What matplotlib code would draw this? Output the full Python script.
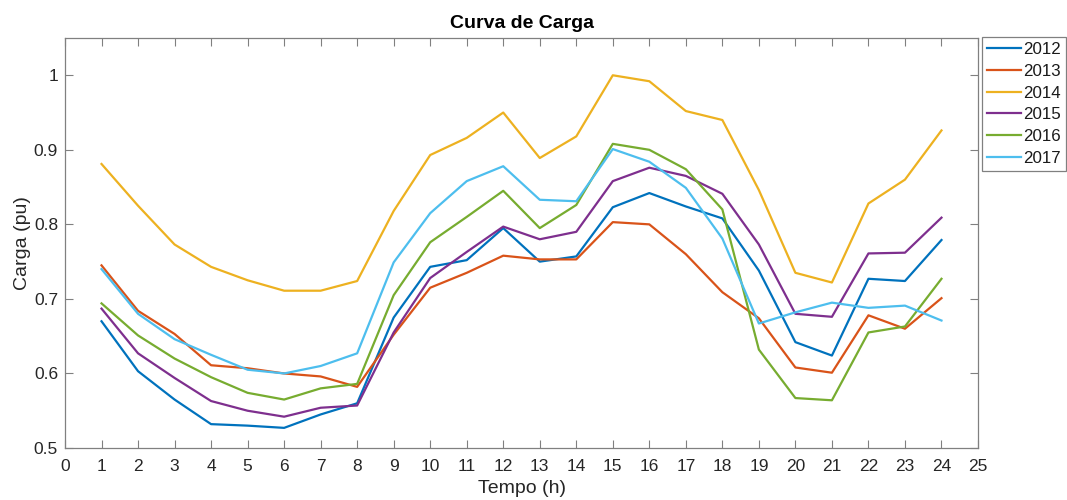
import matplotlib.pyplot as plt

plt.rcParams['font.family'] = ['Liberation Sans', 'DejaVu Sans']

hours = list(range(1, 25))
years = ["2012", "2013", "2014", "2015", "2016", "2017"]

load_2012 = [0.670, 0.603, 0.565, 0.532, 0.530, 0.527, 0.545, 0.560, 0.675, 0.743, 0.752, 0.795,
             0.750, 0.757, 0.823, 0.842, 0.824, 0.808, 0.738, 0.642, 0.624, 0.727, 0.724, 0.779]
load_2013 = [0.745, 0.684, 0.653, 0.611, 0.607, 0.600, 0.596, 0.582, 0.652, 0.715, 0.735, 0.758,
             0.753, 0.753, 0.803, 0.800, 0.760, 0.709, 0.674, 0.608, 0.601, 0.678, 0.660, 0.701]
load_2014 = [0.881, 0.825, 0.773, 0.743, 0.725, 0.711, 0.711, 0.724, 0.818, 0.893, 0.916, 0.950,
             0.889, 0.918, 1.000, 0.992, 0.952, 0.940, 0.846, 0.735, 0.722, 0.828, 0.860, 0.926]
load_2015 = [0.687, 0.627, 0.594, 0.563, 0.550, 0.542, 0.554, 0.557, 0.655, 0.728, 0.763, 0.797,
             0.780, 0.790, 0.858, 0.876, 0.865, 0.841, 0.773, 0.680, 0.676, 0.761, 0.762, 0.809]
load_2016 = [0.694, 0.651, 0.620, 0.595, 0.574, 0.565, 0.580, 0.586, 0.705, 0.776, 0.810, 0.845,
             0.795, 0.826, 0.908, 0.900, 0.874, 0.820, 0.632, 0.567, 0.564, 0.655, 0.663, 0.727]
load_2017 = [0.740, 0.680, 0.646, 0.625, 0.605, 0.600, 0.610, 0.627, 0.749, 0.815, 0.858, 0.878,
             0.833, 0.831, 0.901, 0.884, 0.849, 0.781, 0.667, 0.682, 0.695, 0.688, 0.691, 0.671]

series = [load_2012, load_2013, load_2014, load_2015, load_2016, load_2017]
colors = ["#0072BD", "#D95319", "#EDB120", "#7E2F8E", "#77AC30", "#4DBEEE"]

axis_color = "#808080"
text_color = "#262626"

fig = plt.figure(figsize=(10.67, 5), dpi=100)
ax = fig.add_axes([65 / 1067, 1 - 448 / 500, 913 / 1067, 410 / 500])

for vals, name, c in zip(series, years, colors):
  ax.plot(hours, vals, color=c, linewidth=1.6, label=name)

ax.set_xlim(0, 25)
ax.set_ylim(0.5, 1.05)
ax.set_xticks(range(0, 26))
ax.set_yticks([0.5, 0.6, 0.7, 0.8, 0.9, 1.0])
ax.set_yticklabels(["0.5", "0.6", "0.7", "0.8", "0.9", "1"])

ax.tick_params(direction="in", length=6, width=0.8, top=True, right=True,
               colors=axis_color, labelcolor=text_color, labelsize=12.5, pad=5)
ax.tick_params(axis="x", pad=8)
for sp in ax.spines.values():
  sp.set_color(axis_color)
  sp.set_linewidth(0.9)

ax.set_title("Curva de Carga", fontsize=14, fontweight="bold", color="black", pad=7)
ax.set_xlabel("Tempo (h)", fontsize=14, color=text_color, labelpad=4)
ax.set_ylabel("Carga (pu)", fontsize=14, color=text_color, labelpad=2)

leg = ax.legend(loc="upper left", bbox_to_anchor=(982 / 1067, 1 - 37 / 500),
                bbox_transform=fig.transFigure, borderaxespad=0, fontsize=12.2,
                fancybox=False, framealpha=1, edgecolor=axis_color,
                handlelength=2.0, handletextpad=0.12, labelspacing=0.4,
                borderpad=0.3)
leg.get_frame().set_linewidth(0.9)
for t in leg.get_texts():
  t.set_color("#1a1a1a")

fig.savefig("out.png", dpi=100)
